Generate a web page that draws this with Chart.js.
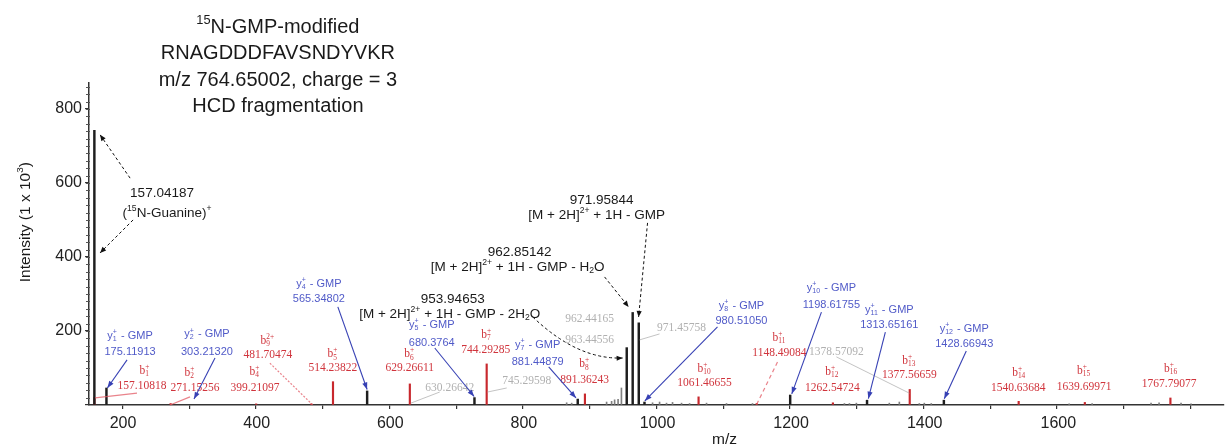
<!DOCTYPE html>
<html>
<head>
<meta charset="utf-8">
<script src="https://cdn.jsdelivr.net/npm/chart.js@4.4.1/dist/chart.umd.min.js"></script>
<style>
  html, body { margin:0; padding:0; background:#fff; }
</style>
</head>
<body>
<canvas id="spectrum" width="1227" height="448"></canvas>
<script>
/* ---------- Spectrum data (m/z, intensity x 10^3) ---------- */
const blackMz  = [157.04187, 175.11913, 565.34802, 726.0, 880.6, 953.94653, 962.85142, 971.95844, 980.51050, 1198.61755, 1313.65161, 1428.66943];
const blackInt = [742, 46, 38, 20, 16, 155, 250, 222, 8, 27, 13, 13];

const redMz  = [157.10818, 271.15256, 399.21097, 481.70474, 514.23822, 629.26611, 744.29285, 891.36243, 1061.46655, 1148.49084, 1262.54724, 1377.56659, 1540.63684, 1639.69971, 1767.79077];
const redInt = [20, 4, 3, 3, 63, 57, 111, 30, 22, 4, 6, 42, 10, 7, 19];

const noiseMz  = [864, 871.5, 923.8, 931.3, 935.8, 941, 946, 992.6, 1003.1, 1013.5, 1022.5, 1036, 1048, 1073.4, 1103.3, 1142.2, 1279.8, 1287.3, 1297.7, 1347, 1362, 1391.9, 1399.4, 1409.8, 1616.2, 1650.6, 1738.8, 1750.8, 1783.7, 1798.7];
const noiseInt = [6, 5, 8, 10, 14, 15, 46, 6, 8, 5, 7, 5, 4, 5, 4, 4, 4, 4, 5, 5, 8, 4, 5, 4, 3, 4, 5, 6, 5, 3];

const xTickLabels = [200, 400, 600, 800, 1000, 1200, 1400, 1600];
const yTickLabels = [200, 400, 600, 800];

/* ---------- Annotations, placed in data units: [m/z, intensity, text] ---------- */
const titleLines = [
  [431.8, 1025, '^{15}N-GMP-modified'],
  [431.8, 954, 'RNAGDDDFAVSNDYVKR'],
  [431.8, 882, 'm/z 764.65002, charge = 3'],
  [431.8, 812, 'HCD fragmentation']
];
const blackLabels = [
  [258.3, 575, '157.04187'],
  [265.8, 521, '(^{15}N-Guanine)^{+}'],
  [693.5, 289, '953.94653'],
  [689.0, 249, '[M + 2H]^{2+} + 1H - GMP - 2H_{2}O'],
  [793.7, 416, '962.85142'],
  [790.7, 376, '[M + 2H]^{2+} + 1H - GMP - H_{2}O'],
  [916.3, 557, '971.95844'],
  [908.9, 516, '[M + 2H]^{2+} + 1H - GMP']
];
const blueLabels = [
  [210.5, 189, 'y_{1}^{+} - GMP'], [210.5, 146, '175.11913'],
  [325.6, 194, 'y_{2}^{+} - GMP'], [325.6, 146, '303.21320'],
  [493.1, 330, 'y_{4}^{+} - GMP'], [493.1, 289, '565.34802'],
  [662.1, 219, 'y_{5}^{+} - GMP'], [662.1, 170, '680.3764'],
  [820.6, 165, 'y_{7}^{+} - GMP'], [820.6, 119, '881.44879'],
  [1125.7, 270, 'y_{8}^{+} - GMP'], [1125.7, 230, '980.51050'],
  [1260.3, 319, 'y_{10}^{+} - GMP'], [1260.3, 273, '1198.61755'],
  [1347.0, 259, 'y_{11}^{+} - GMP'], [1347.0, 219, '1313.65161'],
  [1459.2, 208, 'y_{12}^{+} - GMP'], [1459.2, 168, '1428.66943']
];
const redLabels = [
  [232.9, 95, 'b_{1}^{+}'], [228.4, 54, '157.10818'],
  [300.2, 89, 'b_{2}^{+}'], [307.7, 49, '271.15256'],
  [416.8, 176, 'b_{9}^{2+}'], [416.8, 138, '481.70474'],
  [397.4, 92, 'b_{4}^{+}'], [397.4, 49, '399.21097'],
  [514.1, 140, 'b_{5}^{+}'], [514.1, 103, '514.23822'],
  [629.2, 140, 'b_{6}^{+}'], [629.2, 103, '629.26611'],
  [744.4, 192, 'b_{7}^{+}'], [742.9, 151, '744.29285'],
  [890.9, 113, 'b_{8}^{+}'], [890.9, 70, '891.36243'],
  [1070.4, 100, 'b_{10}^{+}'], [1070.4, 62, '1061.46655'],
  [1182.5, 184, 'b_{11}^{+}'], [1182.5, 143, '1148.49084'],
  [1261.8, 92, 'b_{12}^{+}'], [1261.8, 49, '1262.54724'],
  [1377.0, 122, 'b_{13}^{+}'], [1377.0, 84, '1377.56659'],
  [1541.5, 89, 'b_{14}^{+}'], [1540.0, 49, '1540.63684'],
  [1638.7, 95, 'b_{15}^{+}'], [1638.7, 51, '1639.69971'],
  [1768.8, 100, 'b_{16}^{+}'], [1765.8, 59, '1767.79077']
];
const grayLabels = [
  [689.0, 49, '630.26642'],
  [804.2, 68, '745.29598'],
  [898.4, 235, '962.44165'],
  [898.4, 178, '963.44556'],
  [1036.0, 211, '971.45758'],
  [1267.8, 146, '1378.57092']
];
const axisTitles = [
  [1100.3, -89, 'm/z'],
  [51.9, 494, 'Intensity (1 x 10^{3})']
];

/* arrows: [fromMz, fromInt, toMz, toInt] */
const blueArrows = [
  [206.0, 122, 176.5, 46],
  [337.6, 127, 306.2, 16],
  [521.5, 265, 565.3, 42],
  [666.6, 154, 725.5, 23],
  [837.1, 103, 878.0, 19],
  [1089.8, 211, 981.0, 11],
  [1245.4, 251, 1201.0, 30],
  [1341.1, 197, 1315.6, 17],
  [1462.2, 146, 1429.3, 17]
];
const dashArrows = [
  [210.5, 613, 165.6, 730],
  [215.0, 500, 165.6, 411],
  [985.1, 492, 971.7, 238],
  [920.8, 346, 956.7, 265]
];
/* curved dashed arrow: [fromMz, fromInt, ctrlMz, ctrlInt, toMz, toInt] */
const curveArrows = [
  [813.2, 238, 880.5, 122, 947.8, 127]
];
/* connector lines: [fromMz, fromInt, toMz, toInt, dash] */
const redLines = [
  [158.1, 19, 220.9, 32, 0],
  [270.3, 0, 300.2, 22, 0],
  [419.8, 113, 484.1, 0, 2],
  [1179.6, 116, 1148.0, 0, 4]
];
const grayLines = [
  [630.7, 5, 674.0, 35],
  [745.5, 35, 774.3, 46],
  [973.2, 176, 1003.0, 192],
  [1267.8, 130, 1377.0, 32]
];

/* ---------- rich text helpers: ^{sup} _{sub} ---------- */
function parseRich(s){
  const out = [];
  const re = /_\{([^}]*)\}\^\{([^}]*)\}|\^\{([^}]*)\}|_\{([^}]*)\}|([^_^]+)/g;
  let m;
  while ((m = re.exec(s))){
    if (m[1] !== undefined) out.push({k:'ss', sub:m[1], sup:m[2]});
    else if (m[3] !== undefined) out.push({k:'sup', t:m[3]});
    else if (m[4] !== undefined) out.push({k:'sub', t:m[4]});
    else out.push({k:'n', t:m[5]});
  }
  return out;
}

function drawRich(ctx, s, cx, cy, size, family, color){
  const parts = parseRich(s);
  const big = size + 'px ' + family;
  const sm = (size * 0.64) + 'px ' + family;
  let w = 0;
  const widths = parts.map(p => {
    let pw;
    if (p.k === 'n'){ ctx.font = big; pw = ctx.measureText(p.t).width; }
    else if (p.k === 'ss'){ ctx.font = sm; pw = Math.max(ctx.measureText(p.sub).width, ctx.measureText(p.sup).width) + 1; }
    else { ctx.font = sm; pw = ctx.measureText(p.t).width; }
    w += pw;
    return pw;
  });
  let x = cx - w / 2;
  const base = cy + size * 0.36;
  ctx.fillStyle = color;
  ctx.textAlign = 'left';
  ctx.textBaseline = 'alphabetic';
  parts.forEach((p, i) => {
    if (p.k === 'n'){ ctx.font = big; ctx.fillText(p.t, x, base); }
    else if (p.k === 'sup'){ ctx.font = sm; ctx.fillText(p.t, x, base - size * 0.42); }
    else if (p.k === 'sub'){ ctx.font = sm; ctx.fillText(p.t, x, base + size * 0.2); }
    else {
      ctx.font = sm;
      ctx.fillText(p.sup, x, base - size * 0.42);
      ctx.fillText(p.sub, x, base + size * 0.2);
    }
    x += widths[i];
  });
}

function arrowHead(ctx, x0, y0, x1, y1, len, half){
  const a = Math.atan2(y1 - y0, x1 - x0);
  const bx = x1 - len * Math.cos(a), by = y1 - len * Math.sin(a);
  ctx.beginPath();
  ctx.moveTo(x1, y1);
  ctx.lineTo(bx + half * Math.sin(a), by - half * Math.cos(a));
  ctx.lineTo(bx - half * Math.sin(a), by + half * Math.cos(a));
  ctx.closePath();
  ctx.fill();
}

const SANS = 'Arial, "Liberation Sans", sans-serif';
const SERIF = '"Times New Roman", "Liberation Serif", serif';

const annotate = {
  id: 'annotate',
  beforeDraw(chart){
    const ctx = chart.ctx;
    ctx.save();
    ctx.fillStyle = '#fff';
    ctx.fillRect(0, 0, chart.width, chart.height);
    ctx.restore();
  },
  afterDraw(chart){
    const ctx = chart.ctx;
    const xs = chart.scales.x, ys = chart.scales.y;
    const X = v => xs.getPixelForValue(v);
    const Y = v => ys.getPixelForValue(v);
    ctx.save();

    // m/z tick labels (only every other hundred carries a number)
    ctx.fillStyle = '#222';
    ctx.font = '16px ' + SANS;
    ctx.textAlign = 'center';
    ctx.textBaseline = 'alphabetic';
    xTickLabels.forEach(v => ctx.fillText(String(v), X(v), ys.bottom + 23));

    // minor ticks along the intensity axis
    ctx.strokeStyle = '#555';
    ctx.lineWidth = 1;
    for (let v = 20; v < 870; v += 20){
      const py = Math.round(Y(v)) + 0.5;
      ctx.beginPath(); ctx.moveTo(xs.left - 3, py); ctx.lineTo(xs.left + 1, py); ctx.stroke();
    }

    // faint connector lines
    ctx.lineWidth = 1;
    grayLines.forEach(l => {
      ctx.strokeStyle = 'rgba(170,170,170,0.7)';
      ctx.setLineDash([]);
      ctx.beginPath(); ctx.moveTo(X(l[0]), Y(l[1])); ctx.lineTo(X(l[2]), Y(l[3])); ctx.stroke();
    });
    redLines.forEach(l => {
      ctx.strokeStyle = 'rgba(225,90,100,0.75)';
      ctx.lineWidth = 1.2;
      ctx.setLineDash(l[4] ? [l[4], l[4] * 0.8] : []);
      ctx.beginPath(); ctx.moveTo(X(l[0]), Y(l[1])); ctx.lineTo(X(l[2]), Y(l[3])); ctx.stroke();
    });
    ctx.setLineDash([]);

    // labels
    titleLines.forEach(t => drawRich(ctx, t[2], X(t[0]), Y(t[1]), 20, SANS, '#1a1a1a'));
    blackLabels.forEach(t => drawRich(ctx, t[2], X(t[0]), Y(t[1]), 13.5, SANS, '#1a1a1a'));
    blueLabels.forEach(t => drawRich(ctx, t[2], X(t[0]), Y(t[1]), 11, SANS, 'rgb(80,90,200)'));
    redLabels.forEach(t => drawRich(ctx, t[2], X(t[0]), Y(t[1]), 11.5, SERIF, 'rgb(208,52,60)'));
    grayLabels.forEach(t => drawRich(ctx, t[2], X(t[0]), Y(t[1]), 11.5, SERIF, '#b0b0b0'));

    // axis titles
    drawRich(ctx, axisTitles[0][2], X(axisTitles[0][0]), Y(axisTitles[0][1]), 15.5, SANS, '#1a1a1a');
    ctx.save();
    ctx.translate(X(axisTitles[1][0]), Y(axisTitles[1][1]));
    ctx.rotate(-Math.PI / 2);
    drawRich(ctx, axisTitles[1][2], 0, 0, 15.5, SANS, '#1a1a1a');
    ctx.restore();

    // blue arrows
    ctx.strokeStyle = 'rgb(55,65,180)';
    ctx.fillStyle = 'rgb(55,65,180)';
    ctx.lineWidth = 1.1;
    blueArrows.forEach(a => {
      const x0 = X(a[0]), y0 = Y(a[1]), x1 = X(a[2]), y1 = Y(a[3]);
      ctx.beginPath(); ctx.moveTo(x0, y0); ctx.lineTo(x1, y1); ctx.stroke();
      arrowHead(ctx, x0, y0, x1, y1, 7, 2.6);
    });

    // black dashed arrows
    ctx.strokeStyle = '#111';
    ctx.fillStyle = '#111';
    ctx.lineWidth = 1;
    dashArrows.forEach(a => {
      const x0 = X(a[0]), y0 = Y(a[1]), x1 = X(a[2]), y1 = Y(a[3]);
      ctx.setLineDash([3, 2.5]);
      ctx.beginPath(); ctx.moveTo(x0, y0); ctx.lineTo(x1, y1); ctx.stroke();
      ctx.setLineDash([]);
      arrowHead(ctx, x0, y0, x1, y1, 6, 2.6);
    });
    curveArrows.forEach(a => {
      const x0 = X(a[0]), y0 = Y(a[1]), cx = X(a[2]), cy = Y(a[3]), x1 = X(a[4]), y1 = Y(a[5]);
      ctx.setLineDash([3, 2.5]);
      ctx.beginPath(); ctx.moveTo(x0, y0); ctx.quadraticCurveTo(cx, cy, x1, y1); ctx.stroke();
      ctx.setLineDash([]);
      arrowHead(ctx, cx, cy, x1, y1, 6, 2.6);
    });
    ctx.restore();
  }
};

const toPoints = (mz, ints) => mz.map((m, i) => ({ x: m, y: ints[i] }));

new Chart(document.getElementById('spectrum'), {
  type: 'bar',
  data: {
    datasets: [
      { data: toPoints(blackMz, blackInt), backgroundColor: '#1e1e1e', barThickness: 1.8 },
      { data: toPoints(redMz, redInt), backgroundColor: 'rgb(200,40,45)', barThickness: 1.5 },
      { data: toPoints(noiseMz, noiseInt), backgroundColor: '#808080', barThickness: 1 }
    ]
  },
  options: {
    responsive: false,
    animation: false,
    devicePixelRatio: 1,
    layout: { padding: { top: 83, right: 2, left: 0, bottom: 0 } },
    datasets: { bar: { grouped: false } },
    plugins: { legend: { display: false }, tooltip: { enabled: false } },
    scales: {
      x: {
        type: 'linear', min: 149, max: 1848, offset: false,
        grid: { display: true, drawOnChartArea: false, drawTicks: true, tickLength: 4, color: '#333', lineWidth: 1.2 },
        border: { display: true, color: '#333', width: 1.5 },
        ticks: {
          stepSize: 100, includeBounds: false, autoSkip: false, maxRotation: 0, padding: 3,
          color: 'rgba(0,0,0,0)', font: { family: SANS, size: 16 },
          callback: () => ''
        },
        afterFit: s => { s.height = 43; }
      },
      y: {
        min: 0, max: 870,
        grid: { display: true, drawOnChartArea: false, drawTicks: true, tickLength: 4, color: '#333', lineWidth: 1.2 },
        border: { display: true, color: '#333', width: 1.5 },
        ticks: {
          stepSize: 200, includeBounds: false, padding: 3,
          color: '#222', font: { family: SANS, size: 16 },
          callback: v => yTickLabels.includes(v) ? String(v) : ''
        },
        afterFit: s => { s.width = 89; }
      }
    }
  },
  plugins: [annotate]
});
</script>
</body>
</html>
